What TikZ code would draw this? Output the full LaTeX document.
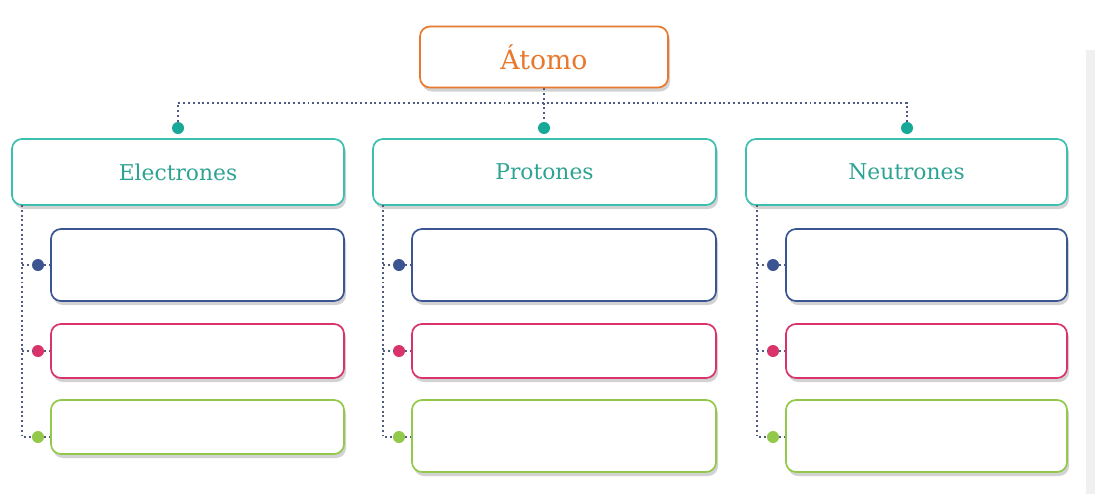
\documentclass[tikz,border=0pt]{standalone}
\usepackage{fontspec}
\setmainfont{DejaVu Serif}
\usetikzlibrary{shadows}
\definecolor{atomorange}{HTML}{E8782E}
\definecolor{headteal}{HTML}{3CBFAE}
\definecolor{textteal}{HTML}{2FA393}
\definecolor{dotteal}{HTML}{17A898}
\definecolor{boxnavy}{HTML}{3A5592}
\definecolor{boxpink}{HTML}{D9336A}
\definecolor{boxgreen}{HTML}{93C94A}
\definecolor{linegray}{HTML}{4F5B82}
\begin{document}
\begin{tikzpicture}[x=0.025cm, y=-0.025cm,
    card/.style={draw, rounded corners=0.25cm, fill=white, line width=1.2pt,
      drop shadow={shadow xshift=0.05cm, shadow yshift=-0.1cm, opacity=0.35}},
    head/.style={card, draw=headteal, text=textteal, minimum height=1.65cm,
      font=\fontsize{15.5}{18}\selectfont},
    dot/.style={circle, fill=#1, inner sep=0pt, minimum size=0.3cm},
    link/.style={dotted, line width=1.4pt, linegray}]
  \useasboundingbox[fill=white] (0,0) rectangle (1095,494);
  \fill[black!6] (1086,50) rectangle (1095,494);
  % top
  \node[card, draw=atomorange, text=atomorange, minimum width=6.2cm, minimum height=1.525cm,
    font=\fontsize{19}{22}\selectfont] (atomo) at (544,57) {Átomo};
  \node[head, minimum width=8.3cm] (elec) at (178,172) {Electrones};
  \node[head, minimum width=8.575cm] (prot) at (544.5,172) {Protones};
  \node[head, minimum width=8.025cm] (neut) at (906.5,172) {Neutrones};
  \coordinate (bus) at (544,103);
  \node[dot=dotteal] (de) at (178,128) {};
  \node[dot=dotteal] (dp) at (544,128) {};
  \node[dot=dotteal] (dn) at (907,128) {};
  \draw[link] (atomo.south) -- (dp);
  \draw[link] (de) |- (bus) -| (dn);
  % sub boxes
  \node[card, draw=boxnavy, minimum width=7.325cm, minimum height=1.8cm] (e1) at (197.5,265) {};
  \node[card, draw=boxpink, minimum width=7.325cm, minimum height=1.35cm] (e2) at (197.5,351) {};
  \node[card, draw=boxgreen, minimum width=7.325cm, minimum height=1.35cm] (e3) at (197.5,427) {};
  \node[card, draw=boxnavy, minimum width=7.6cm, minimum height=1.8cm] (p1) at (564,265) {};
  \node[card, draw=boxpink, minimum width=7.6cm, minimum height=1.35cm] (p2) at (564,351) {};
  \node[card, draw=boxgreen, minimum width=7.6cm, minimum height=1.8cm] (p3) at (564,436) {};
  \node[card, draw=boxnavy, minimum width=7.025cm, minimum height=1.8cm] (n1) at (926.5,265) {};
  \node[card, draw=boxpink, minimum width=7.025cm, minimum height=1.35cm] (n2) at (926.5,351) {};
  \node[card, draw=boxgreen, minimum width=7.025cm, minimum height=1.8cm] (n3) at (926.5,436) {};
  % side links
  \foreach \h/\b/\x in {elec/e/22, prot/p/383, neut/n/757} {
    \coordinate (\b top) at (\x,205);
    \node[dot=boxnavy] (\b d1) at (\x+16,265) {};
    \node[dot=boxpink] (\b d2) at (\x+16,351) {};
    \node[dot=boxgreen] (\b d3) at (\x+16,437) {};
    \draw[link] (\b top) |- (\b d3);
    \draw[link] (\b top |- \b d1) -- (\b d1) -- (\b d1 -| \b1.west);
    \draw[link] (\b top |- \b d2) -- (\b d2) -- (\b2.west);
    \draw[link] (\b d3) -- (\b d3 -| \b3.west);
  }
\end{tikzpicture}
\end{document}
